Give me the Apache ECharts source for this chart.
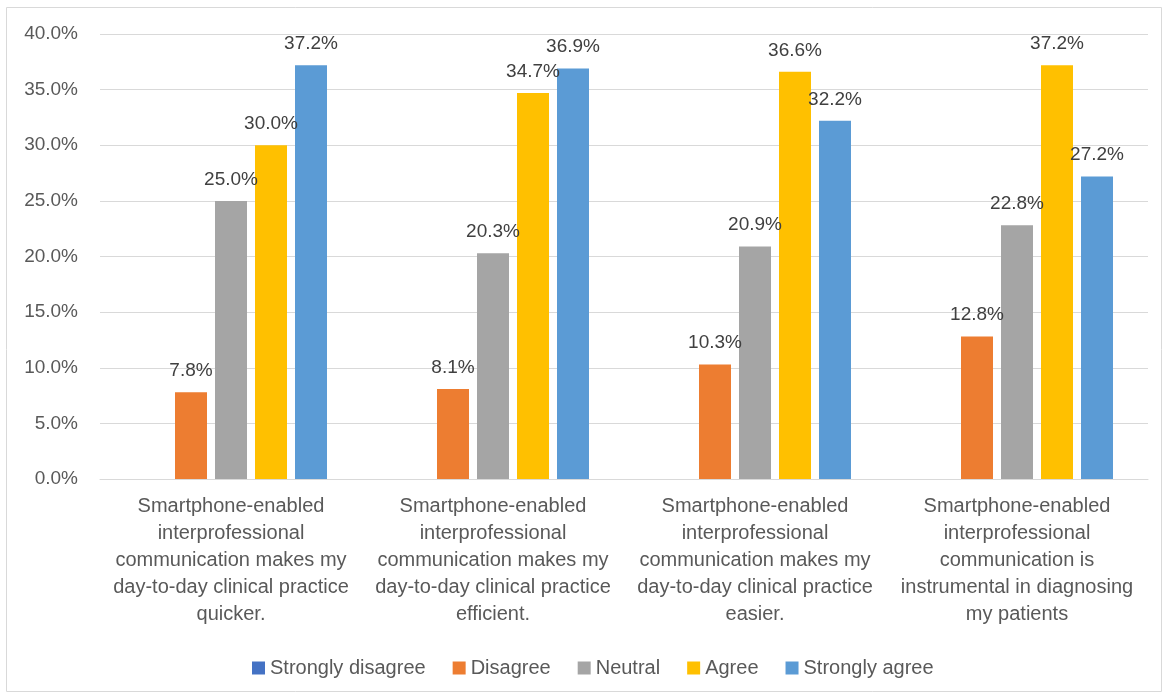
<!DOCTYPE html>
<html>
<head>
<meta charset="utf-8">
<script src="https://cdn.jsdelivr.net/npm/echarts@6/dist/echarts.min.js"></script>
<style>
	* { margin: 0; padding: 0; }
	body { background: #fff; }
	#main { width: 1164px; height: 698px; }
</style>
</head>
<body>
<div id="main"></div>
<script>
	// categories (wrapped as in the original)
	var categories = [
		'Smartphone-enabled\ninterprofessional\ncommunication makes my\nday-to-day clinical practice\nquicker.',
		'Smartphone-enabled\ninterprofessional\ncommunication makes my\nday-to-day clinical practice\nefficient.',
		'Smartphone-enabled\ninterprofessional\ncommunication makes my\nday-to-day clinical practice\neasier.',
		'Smartphone-enabled\ninterprofessional\ncommunication is\ninstrumental in diagnosing\nmy patients'
	];
	var seriesNames = ['Strongly disagree', 'Disagree', 'Neutral', 'Agree', 'Strongly agree'];
	var stronglyDisagree = [null, null, null, null];
	var disagree = [7.8, 8.1, 10.3, 12.8];
	var neutral = [25.0, 20.3, 20.9, 22.8];
	var agree = [30.0, 34.7, 36.6, 37.2];
	var stronglyAgree = [37.2, 36.9, 32.2, 27.2];
	var colors = ['#4472C4', '#ED7D31', '#A5A5A5', '#FFC000', '#5B9BD5'];

	var font = 'Liberation Sans';
	var allData = [stronglyDisagree, disagree, neutral, agree, stronglyAgree];

	var chart = echarts.init(document.getElementById('main'));
	chart.setOption({
		animation: false,
		textStyle: { fontFamily: font },
		graphic: [{
			type: 'rect',
			shape: { x: 6.5, y: 7.5, width: 1155, height: 684 },
			style: { fill: 'none', stroke: '#D9D9D9', lineWidth: 1 },
			silent: true
		}],
		legend: {
			data: seriesNames,
			top: 658,
			left: 252,
			padding: 0,
			itemWidth: 13,
			itemHeight: 13,
			itemGap: 27,
			icon: 'rect',
			textStyle: { fontFamily: font, fontSize: 20, color: '#595959' }
		},
		grid: {
			left: 100,
			right: 16,
			top: 34,
			bottom: 219
		},
		xAxis: {
			type: 'category',
			data: categories,
			axisLine: { lineStyle: { color: '#D9D9D9' } },
			axisTick: { show: false },
			axisLabel: {
				interval: 0,
				margin: 14,
				fontSize: 20,
				lineHeight: 27,
				color: '#595959',
				fontFamily: font
			}
		},
		yAxis: {
			type: 'value',
			min: 0,
			max: 40,
			interval: 5,
			axisLabel: {
				margin: 22,
				fontSize: 19,
				color: '#595959',
				fontFamily: font,
				formatter: function (v) { return v.toFixed(1) + '%'; }
			},
			splitLine: { lineStyle: { color: '#D9D9D9' } }
		},
		series: seriesNames.map(function (name, i) {
			return {
				name: name,
				type: 'bar',
				data: allData[i],
				barWidth: 32,
				barGap: '25%',
				itemStyle: { color: colors[i] },
				label: {
					show: true,
					position: 'top',
					distance: 12,
					fontSize: 19,
					color: '#404040',
					fontFamily: font,
					formatter: function (p) { return p.value == null ? '' : p.value.toFixed(1) + '%'; }
				}
			};
		})
	});
</script>
</body>
</html>
